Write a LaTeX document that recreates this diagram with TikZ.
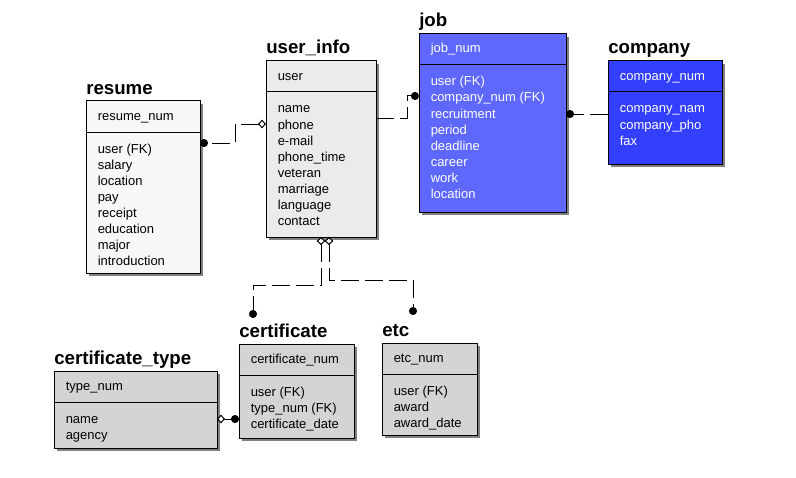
\documentclass[tikz,border=0pt]{standalone}
\usepackage{fontspec}
\setmainfont{Liberation Sans}
\usetikzlibrary{arrows.meta,shadows}
\definecolor{jobblue}{RGB}{94,104,255}
\definecolor{compblue}{RGB}{51,63,255}
\begin{document}
\begin{tikzpicture}[x=0.75pt,y=-0.75pt,
  ent/.style={draw=black, line width=0.75pt, inner sep=0pt, outer sep=0pt, anchor=north west,
    drop shadow={shadow xshift=2.25pt, shadow yshift=-2.25pt, fill=black!50, opacity=1}},
  ttl/.style={anchor=base west, inner sep=0pt, font=\fontsize{14pt}{16pt}\selectfont\bfseries},
  fld/.style={anchor=base west, inner sep=0pt, font=\fontsize{9.75pt}{12pt}\selectfont},
  rel/.style={line width=0.75pt, dash pattern=on 13.5pt off 4.5pt},
  dd/.style={{Diamond[length=6pt,width=6.5pt,fill=white]}-{Circle[length=6pt]}},
  md/.style={-{Circle[length=6pt]}}]
  \fill[white] (0,0) rectangle (796,478);
  % entities: name/title/x/y/width/height/fill/text/key/fields
  \foreach \n/\ti/\x/\y/\w/\h/\c/\tc/\k/\fl in {
     resume/resume/86/101/114/172/black!3/black/resume\_num/{user (FK),salary,location,pay,receipt,education,major,introduction},
     userinfo/user\_info/266/61/110/176/black!8/black/user/{name,phone,e-mail,phone\_time,veteran,marriage,language,contact},
     job/job/419/34/147/178/jobblue/white/job\_num/{user (FK),company\_num (FK),recruitment,period,deadline,career,work,location},
     company/company/608/61/114/103/compblue/white/company\_num/{company\_nam,company\_pho,fax},
     certtype/certificate\_type/54/371/163/77/black!17/black/type\_num/{name,agency},
     cert/certificate/239/344/115/94/black!17/black/certificate\_num/{user (FK),type\_num (FK),certificate\_date},
     etc/etc/382/343/95/92/black!17/black/etc\_num/{user (FK),award,award\_date}}{
     \node[ent, fill=\c, minimum width=\w*0.75pt, minimum height=\h*0.75pt] (\n) at (\x,\y) {};
     \draw[line width=0.75pt] (\x,\y+31) -- (\x+\w,\y+31);
     \node[ttl] (\n-t) at (\x,\y-7) {\ti};
     \node[fld, text=\tc] (\n-k) at (\x+11.5,\y+19) {\k};
     \foreach \f [count=\i] in \fl {\node[fld, text=\tc] (\n-\i) at (\x+11.5,\y+36+16*\i) {\f};}}
  % relationships
  \coordinate (certin) at (253,318);
  \coordinate (etcin) at (413,315);
  \draw[rel, dd] (userinfo.west |- 0,124) -- ++(-31,0) |- (resume.east |- 0,143);
  \draw[rel, md] (userinfo.east |- 0,118) -- ++(31,0) |- (job.west |- 0,96);
  \draw[rel, md] (company.west |- 0,114) -- (job.east |- 0,114);
  \draw[rel, dd] (userinfo.south -| 321,0) -- ++(0,48) -| (certin);
  \draw[rel, dd] (userinfo.south -| 329,0) -- ++(0,43) -| (etcin);
  \draw[rel, dd] (certtype.east |- 0,419) -- (cert.west |- 0,419);
\end{tikzpicture}
\end{document}
